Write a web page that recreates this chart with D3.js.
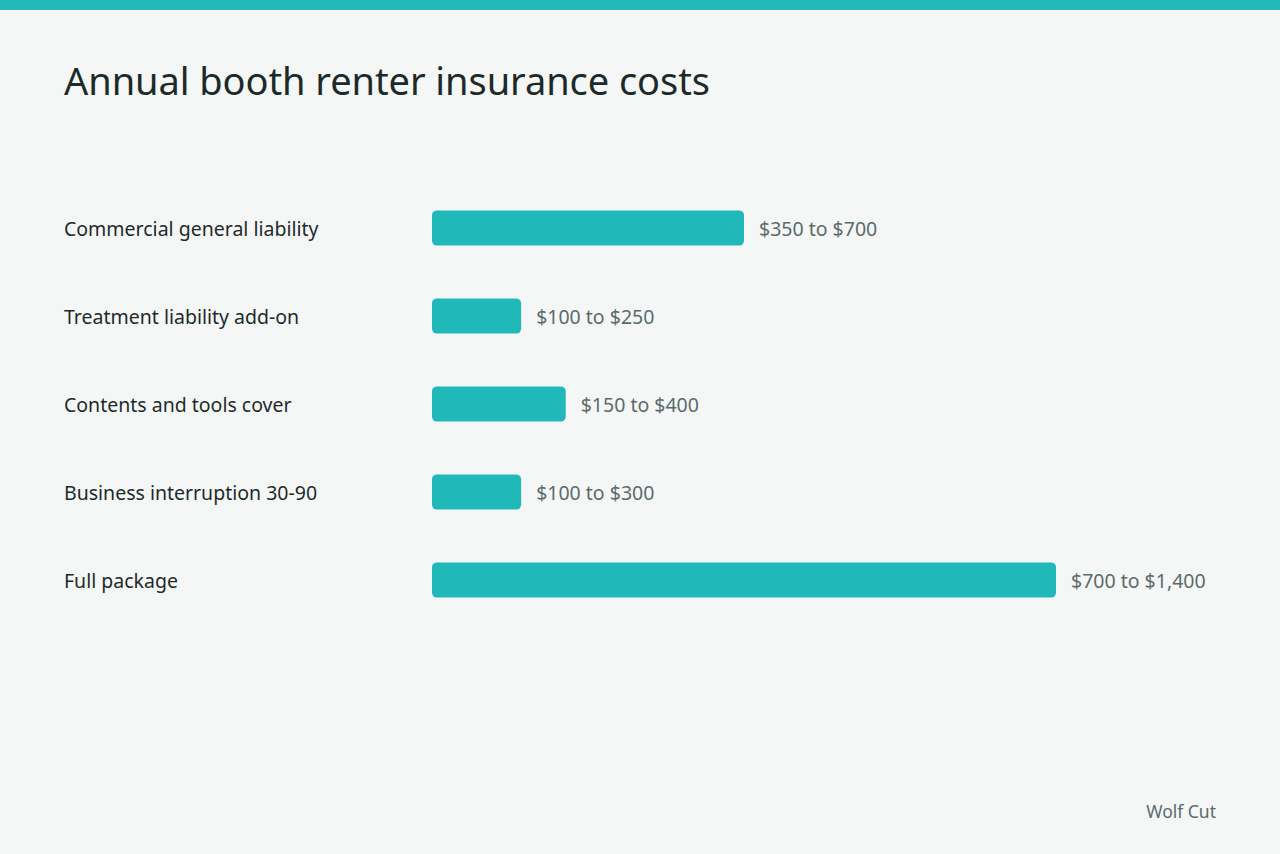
<!DOCTYPE html>
<html>
<head>
<meta charset="utf-8">
<script src="https://cdn.jsdelivr.net/npm/d3@7"></script>
<style>
  body { margin: 0; background: #f5f7f6; }
  svg { display: block; font-family: "Noto Sans", sans-serif; }
</style>
</head>
<body>
<div id="chart"></div>
<script>
const categories = ["Commercial general liability", "Treatment liability add-on", "Contents and tools cover",
  "Business interruption 30-90", "Full package"];
const lowValues = [350, 100, 150, 100, 700];
const rangeLabels = ["$350 to $700", "$100 to $250", "$150 to $400", "$100 to $300", "$700 to $1,400"];

const width = 1280, height = 854;
const teal = "#20b8b8";

const svg = d3.select("#chart").append("svg")
    .attr("width", width)
    .attr("height", height);

svg.append("rect").attr("width", width).attr("height", height).attr("fill", "#f5f7f6");
svg.append("rect").attr("width", width).attr("height", 10).attr("fill", "#22b9b9");

svg.append("text")
    .attr("x", 64).attr("y", 95)
    .attr("font-size", 38)
    .attr("fill", "#1d2a2a")
    .attr("textLength", 646)
    .text("Annual booth renter insurance costs");

const x = d3.scaleLinear().domain([0, 700]).range([432, 1056]);
const y = d3.scaleBand().domain(categories).range([184, 624]).paddingInner(0.6).paddingOuter(0.3);

const rows = svg.selectAll("g.row").data(categories).enter().append("g").attr("class", "row");

rows.append("text")
    .attr("x", 64)
    .attr("y", d => y(d) + y.bandwidth() / 2 + 1)
    .attr("dy", "0.35em")
    .attr("font-size", 19.5)
    .attr("fill", "#1d2a2a")
    .text(d => d);

rows.append("rect")
    .attr("x", x(0))
    .attr("y", d => y(d))
    .attr("height", y.bandwidth())
    .attr("width", (d, i) => x(lowValues[i]) - x(0))
    .attr("rx", 5)
    .attr("fill", teal);

rows.append("text")
    .attr("x", (d, i) => x(lowValues[i]) + 15)
    .attr("y", d => y(d) + y.bandwidth() / 2 + 1)
    .attr("dy", "0.35em")
    .attr("font-size", 19.5)
    .attr("fill", "#5b6b6b")
    .text((d, i) => rangeLabels[i]);

svg.append("text")
    .attr("x", 1216).attr("y", 818)
    .attr("text-anchor", "end")
    .attr("font-size", 17.5)
    .attr("fill", "#5b6b6b")
    .text("Wolf Cut");
</script>
</body>
</html>
